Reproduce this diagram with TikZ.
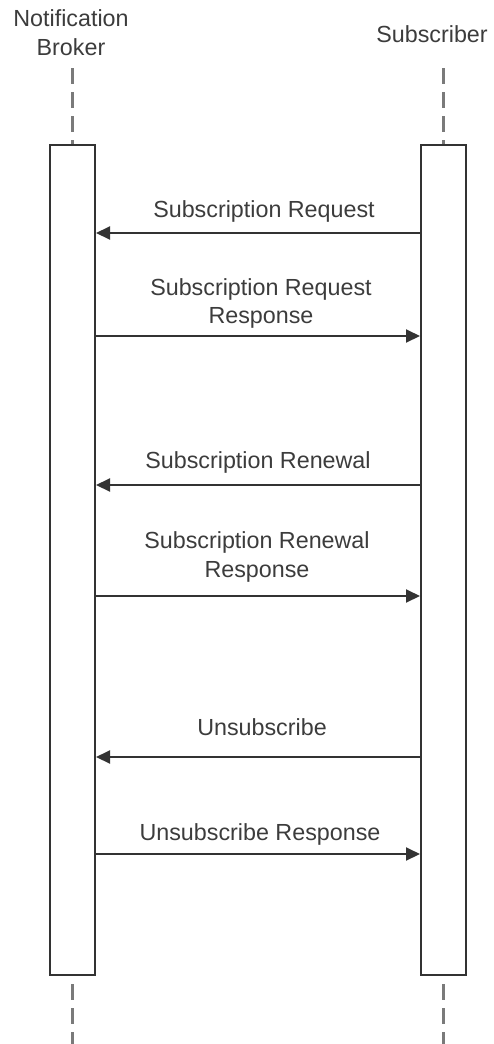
\documentclass[tikz,border=0pt]{standalone}
\usepackage{fontspec}
\setmainfont{Liberation Sans}
\usetikzlibrary{arrows.meta}
\definecolor{ink}{HTML}{333333}
\definecolor{txt}{HTML}{3C3C3C}
\definecolor{life}{HTML}{7A7A7A}
\begin{document}
\begin{tikzpicture}[x=1pt,y=-1pt,
  font=\fontsize{23.3}{28}\selectfont,
  actbox/.style={draw=ink,line width=2pt,fill=white,minimum width=45pt,minimum height=830pt,inner sep=0pt},
  lifeline/.style={draw=life,line width=2.4pt,dash pattern=on 16pt off 8pt},
  msg/.style={draw=ink,line width=2pt,-{Triangle[length=14pt,width=13pt]}},
  lbl/.style={text=txt,anchor=base,inner sep=0pt,align=center}]
\useasboundingbox (0,0) rectangle (493,1044);

% actor names
\node[lbl] (nb1) at (71,27) {Notification};
\node[lbl] (nb2) at (71,55) {Broker};
\node[lbl] (sub) at (432,42) {Subscriber};

% lifeline ends
\coordinate (bTop) at (72.5,68);
\coordinate (bBot) at (72.5,1050);
\coordinate (sTop) at (443.5,68);
\coordinate (sBot) at (443.5,1050);

% activation boxes
\node[actbox] (broker) at (72.5,560) {};
\node[actbox] (subscr) at (443.5,560) {};

\draw[lifeline] (bTop) -- (broker.north);
\draw[lifeline] (sTop) -- (subscr.north);
\draw[lifeline] ([yshift=-8pt]broker.south) -- (bBot);
\draw[lifeline] ([yshift=-8pt]subscr.south) -- (sBot);

% message rows
\coordinate (m1) at (0,233);
\coordinate (m2) at (0,336);
\coordinate (m3) at (0,485);
\coordinate (m4) at (0,596);
\coordinate (m5) at (0,757);
\coordinate (m6) at (0,854);

\draw[msg] (subscr.west |- m1) -- (broker.east |- m1);
\draw[msg] (broker.east |- m2) -- (subscr.west |- m2);
\draw[msg] (subscr.west |- m3) -- (broker.east |- m3);
\draw[msg] (broker.east |- m4) -- (subscr.west |- m4);
\draw[msg] (subscr.west |- m5) -- (broker.east |- m5);
\draw[msg] (broker.east |- m6) -- (subscr.west |- m6);

% message labels
\node[lbl] (t1) at (264,217) {Subscription Request};
\node[lbl] (t2a) at (261,295) {Subscription Request};
\node[lbl] (t2b) at (261,323) {Response};
\node[lbl] (t3) at (258,468) {Subscription Renewal};
\node[lbl] (t4a) at (257,548) {Subscription Renewal};
\node[lbl] (t4b) at (257,577) {Response};
\node[lbl] (t5) at (262,735) {Unsubscribe};
\node[lbl] (t6) at (260,840) {Unsubscribe Response};
\end{tikzpicture}
\end{document}
